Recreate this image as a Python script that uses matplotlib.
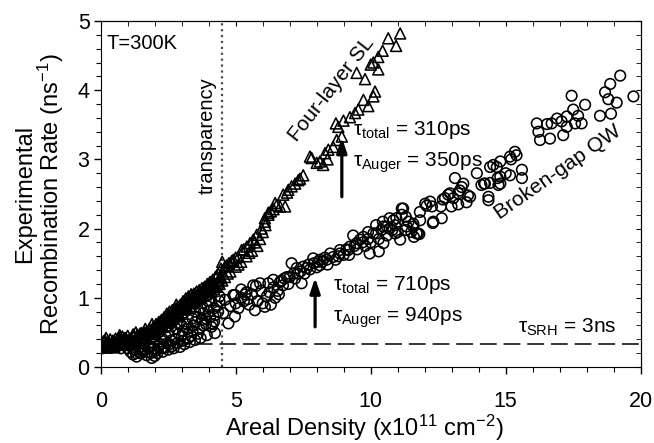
import numpy as np
import matplotlib
matplotlib.use("Agg")
import matplotlib.pyplot as plt

plt.rcParams['font.family'] = ['Liberation Sans', 'DejaVu Sans']
plt.rcParams['mathtext.fontset'] = 'custom'
plt.rcParams['mathtext.rm'] = 'Liberation Sans'
plt.rcParams['mathtext.it'] = 'Liberation Sans'

# Four-layer SL (triangles): areal density (x1e11 cm^-2), recombination rate (ns^-1)
sl_density = [0.05, 0.15, 0.3, 0.45, 0.55, 0.7, 0.8, 0.95, 1.1, 1.2, 1.35, 1.45, 1.6, 1.7, 1.8,
              1.95, 2.05, 2.15, 2.25, 2.35, 2.45, 2.55, 2.65, 2.75, 2.85, 2.95, 3.05, 3.15, 3.25,
              3.35, 3.45, 3.55, 3.65, 3.75, 3.85, 3.95, 4.05, 4.15, 4.25, 4.35, 4.45, 4.5,
              0.1, 0.25, 0.4, 0.6, 0.75, 0.9, 1.05, 1.25, 1.4, 1.55, 1.7, 1.85, 2.0, 2.1, 2.2,
              2.3, 2.4, 2.5, 2.6, 2.7, 2.8, 2.9, 3.0, 3.1, 3.2, 3.3, 3.4, 3.5, 3.6, 3.7, 3.8,
              3.9, 4.0, 4.1, 4.2, 4.3, 4.4, 4.5,
              1.0, 1.5, 2.0, 2.5, 3.0, 3.5, 4.0, 4.4, 2.2, 2.8, 3.3, 3.8, 1.3, 1.8, 0.5, 0.2,
              0.0, 0.2, 0.35, 0.5, 0.65, 0.85, 1.0, 1.15, 1.3, 1.5, 1.65, 1.9, 2.05, 2.25, 2.4,
              2.55, 2.7, 2.85, 3.0, 3.15, 3.3, 3.45, 3.6, 3.75, 3.9, 4.05, 4.2, 4.35,
              0.1, 0.4, 0.7, 1.0, 1.3, 1.6, 1.9, 2.2, 2.5, 2.8, 3.1, 3.4, 3.7, 4.0, 4.3,
              0.05, 0.25, 0.45, 0.6, 0.75, 0.9, 1.05, 1.2, 1.35, 1.5, 1.65, 1.8, 1.95, 2.1, 2.25,
              2.4, 2.55, 2.7, 2.85, 3.0, 3.15, 3.3, 3.45, 3.6, 3.75, 3.9, 4.05, 4.2, 4.35, 4.45,
              4.6, 4.67, 4.75, 4.85, 4.91, 5.0, 5.1, 5.22, 5.3, 5.41, 5.53, 5.65, 5.78, 5.96,
              6.08, 6.21, 6.52, 6.83, 6.08, 6.21, 6.46, 6.64, 6.76, 6.95, 7.07, 7.2, 7.32, 7.38,
              7.5, 7.81, 8.0, 8.12, 8.24, 8.31, 8.43, 8.61, 8.74, 8.93, 8.71, 8.8, 8.99, 9.23,
              9.42, 9.54, 9.91, 9.73, 10.1, 10.16, 9.79, 9.48, 10.28, 10.0, 10.1, 10.28, 10.44,
              10.94, 10.65, 11.09,
              4.6, 4.8, 5.0, 5.2, 5.4, 5.6, 5.8, 4.7, 5.1, 5.5, 5.9, 6.0, 6.3, 6.4, 6.9, 5.7, 6.1,
              7.75, 8.4]
sl_rate = [0.34, 0.39, 0.36, 0.33, 0.41, 0.46, 0.44, 0.40, 0.41, 0.44, 0.46, 0.48, 0.50, 0.51, 0.55,
           0.58, 0.62, 0.65, 0.68, 0.72, 0.77, 0.80, 0.82, 0.84, 0.87, 0.90, 0.95, 0.99, 1.02,
           1.05, 1.06, 1.09, 1.11, 1.14, 1.16, 1.20, 1.23, 1.26, 1.30, 1.35, 1.42, 1.52,
           0.30, 0.28, 0.31, 0.33, 0.36, 0.33, 0.35, 0.37, 0.38, 0.40, 0.42, 0.45, 0.48, 0.52, 0.55,
           0.58, 0.60, 0.64, 0.67, 0.70, 0.73, 0.76, 0.79, 0.83, 0.86, 0.88, 0.92, 0.95, 0.98, 1.00, 1.03,
           1.05, 1.08, 1.10, 1.13, 1.16, 1.20, 1.25,
           0.38, 0.44, 0.53, 0.70, 0.85, 1.00, 1.15, 1.28, 0.60, 0.80, 0.95, 1.08, 0.42, 0.48, 0.37, 0.33,
           0.28, 0.42, 0.40, 0.29, 0.40, 0.38, 0.45, 0.38, 0.50, 0.46, 0.55, 0.52, 0.57, 0.62, 0.68,
           0.72, 0.76, 0.80, 0.88, 0.92, 0.98, 1.00, 1.03, 1.08, 1.12, 1.17, 1.20, 1.25,
           0.37, 0.34, 0.42, 0.34, 0.40, 0.47, 0.62, 0.65, 0.74, 0.90, 0.90, 1.03, 1.06, 1.20, 1.32,
           0.31, 0.35, 0.38, 0.36, 0.41, 0.42, 0.39, 0.47, 0.43, 0.49, 0.47, 0.53, 0.50, 0.58, 0.60,
           0.66, 0.69, 0.74, 0.78, 0.84, 0.87, 0.93, 0.97, 1.04, 1.06, 1.10, 1.15, 1.18, 1.22, 1.30,
           1.45, 1.47, 1.50, 1.53, 1.55, 1.58, 1.59, 1.69, 1.70, 1.74, 1.79, 1.84, 1.91, 2.00,
           2.10, 2.20, 2.34, 2.32, 2.15, 2.23, 2.37, 2.32, 2.49, 2.56, 2.61, 2.65, 2.70, 2.72,
           2.77, 3.02, 2.95, 2.97, 2.92, 3.09, 3.14, 3.18, 3.28, 3.33, 3.52, 3.47, 3.56, 3.61,
           3.67, 3.72, 3.77, 3.86, 3.91, 3.98, 4.16, 4.25, 4.30, 4.37, 4.40, 4.48, 4.57,
           4.64, 4.75, 4.82,
           1.30, 1.38, 1.45, 1.52, 1.60, 1.68, 1.75, 1.35, 1.48, 1.65, 1.85, 1.95, 2.25, 2.28, 2.52, 1.80, 2.05,
           3.04, 3.00]

# Broken-gap QW (circles)
qw_density = [1.2, 1.33, 1.5, 1.7, 1.89, 2.0, 2.1, 2.3, 2.5, 2.7, 2.94, 3.1, 3.3, 3.49, 3.7, 3.93, 4.23,
              0.2, 0.5, 0.8, 1.0, 1.4, 1.8, 2.2, 2.6, 3.0, 3.4, 3.8, 4.2, 2.4, 2.8, 3.2, 3.6, 4.0,
              4.3, 4.4, 3.9, 4.1,
              0.1, 0.35, 0.6, 0.9, 1.1, 1.25, 1.45, 1.6, 1.75, 1.95, 2.15, 2.35, 2.55, 2.75, 2.9,
              3.05, 3.2, 3.35, 3.5, 3.65, 3.8, 3.95, 4.1, 4.25, 4.4, 2.0, 2.5, 3.0, 3.5, 4.0,
              0.05, 0.3, 0.55, 0.75, 1.05, 1.3, 1.55, 1.85, 2.05, 2.25, 2.45, 2.65, 2.85, 3.05,
              3.25, 3.45, 3.6, 3.75, 3.9, 4.05, 4.2, 4.35, 1.6, 2.3, 2.9, 3.4, 3.7, 4.15,
              4.54, 4.6, 4.73, 4.91, 4.97, 4.97, 5.2, 5.1, 5.3, 5.4, 5.5, 5.65, 5.71, 5.75, 5.9,
              6.08, 6.15, 6.21, 6.3, 6.39, 6.46, 6.64, 6.55, 6.9, 6.75, 7.07, 7.26, 7.44, 7.5,
              7.63, 7.75, 7.87, 8.12, 8.12, 8.37, 8.5, 8.61, 8.86, 8.86, 9.17, 9.23, 9.35, 9.48,
              9.6, 9.73, 9.96, 10.1, 10.2, 10.3, 10.4, 10.47, 10.6, 10.84, 10.9, 11.09, 11.15,
              11.3, 11.33, 11.58, 11.7, 11.75, 12.3, 10.2, 10.45, 10.7, 10.95, 11.2, 11.15, 10.47,
              10.8, 11.3, 11.6, 11.8, 11.58, 11.83, 12.32, 12.63, 12.02, 12.2, 12.27, 12.6, 12.99,
              13.24, 13.55, 13.68, 13.06, 12.75, 12.94, 13.3, 13.43, 13.12, 13.93, 14.2, 14.54,
              14.7, 14.8, 15.0, 14.36, 14.36, 12.07, 11.82, 12.67, 12.87, 13.37, 13.6, 13.24,
              14.1, 14.23, 14.42, 14.73, 14.8, 15.16, 15.6, 15.6, 14.42, 14.67, 14.8, 15.2, 15.16,
              15.4, 15.34, 16.27, 16.21, 16.64, 17.13, 16.15, 16.53, 16.7, 16.9, 17.07, 17.26,
              17.26, 17.57, 17.5, 17.68, 17.81, 17.94, 17.44, 18.49, 18.9, 18.8, 19.11, 18.68,
              18.87, 19.24, 19.73,
              7.9, 8.2, 8.4, 8.7, 9.0, 9.1, 9.4, 9.7, 9.9, 7.3, 7.0, 6.8, 8.0, 8.3, 8.8,
              4.8, 5.0, 5.2, 5.35, 5.45, 5.6, 5.8, 5.95, 6.0, 6.25, 6.4, 6.6, 6.7, 6.95, 7.15,
              7.2, 7.4, 7.55, 7.7, 8.05, 9.2, 9.5, 9.8, 10.0, 10.3, 10.6, 10.9, 11.0, 11.4, 11.5,
              9.9, 10.7]
qw_rate = [0.18, 0.15, 0.20, 0.17, 0.13, 0.16, 0.20, 0.22, 0.25, 0.27, 0.29, 0.33, 0.36, 0.39, 0.42, 0.46, 0.49,
           0.30, 0.33, 0.32, 0.27, 0.28, 0.30, 0.33, 0.38, 0.45, 0.52, 0.60, 0.66, 0.45, 0.55, 0.62, 0.72, 0.80,
           0.88, 0.95, 0.70, 0.58,
           0.35, 0.28, 0.30, 0.33, 0.22, 0.25, 0.20, 0.26, 0.22, 0.26, 0.30, 0.28, 0.33, 0.40, 0.48,
           0.38, 0.55, 0.45, 0.65, 0.55, 0.78, 0.88, 0.95, 0.75, 1.02, 0.40, 0.50, 0.60, 0.80, 0.95,
           0.27, 0.33, 0.28, 0.27, 0.31, 0.20, 0.24, 0.20, 0.24, 0.27, 0.34, 0.30, 0.35, 0.52,
           0.42, 0.60, 0.48, 0.68, 0.62, 0.72, 0.85, 0.80, 0.33, 0.40, 0.62, 0.70, 0.85, 0.62,
           0.78, 0.97, 0.63, 1.04, 0.73, 1.04, 1.00, 0.85, 0.95, 1.08, 0.90, 1.18, 0.82, 1.17, 1.21,
           0.87, 1.02, 1.21, 0.90, 1.26, 1.00, 1.23, 1.10, 1.30, 1.18, 1.50, 1.43, 1.21, 1.45,
           1.43, 1.41, 1.57, 1.47, 1.55, 1.55, 1.64, 1.59, 1.64, 1.69, 1.69, 1.74, 1.90, 1.79,
           1.84, 1.88, 1.64, 1.93, 1.93, 1.67, 1.98, 2.03, 2.03, 2.12, 1.93, 1.84, 2.29,
           2.17, 2.03, 2.03, 1.93, 1.93, 2.08, 2.05, 2.10, 2.15, 2.15, 2.29, 2.20, 1.79,
           1.98, 1.98, 1.88, 1.92, 2.07, 2.12, 2.10, 2.15, 2.36, 2.39, 2.32, 2.32, 2.32,
           2.35, 2.38, 2.46, 2.44, 2.44, 2.51, 2.55, 2.65, 2.73, 2.80, 2.65, 2.92,
           2.73, 2.65, 2.80, 2.41, 2.46, 2.33, 2.24, 2.42, 2.49, 2.60, 2.48, 2.51,
           2.63, 2.65, 2.66, 2.63, 2.75, 2.77, 2.73, 2.85, 2.89, 2.89, 2.97, 3.00, 3.04,
           3.06, 3.11, 3.28, 3.40, 3.30, 3.35, 3.52, 3.51, 3.52, 3.59, 3.55, 3.62,
           3.47, 3.52, 3.72, 3.63, 3.52, 3.79, 3.92, 3.63, 3.66, 3.87, 3.82, 3.97,
           4.09, 4.21, 3.91,
           1.50, 1.52, 1.48, 1.55, 1.62, 1.70, 1.75, 1.80, 1.85, 1.35, 1.30, 1.28, 1.44, 1.58, 1.60,
           0.88, 0.92, 1.12, 1.05, 0.98, 1.05, 0.95, 1.10, 0.92, 1.08, 1.15, 1.05, 1.25, 1.20, 1.35,
           1.28, 1.38, 1.35, 1.48, 1.52, 1.62, 1.70, 1.75, 1.80, 1.85, 1.90, 2.05, 1.95, 2.10, 1.95,
           1.95, 2.00]

transparency = 4.5      # transparency density
tau_srh = 3.0           # ns

fig = plt.figure(figsize=(6.54, 4.43), dpi=100)
ax = fig.add_axes([0.154, 0.1716, 0.8257, 0.781])

ax.scatter(qw_density, qw_rate, marker='o', s=58, facecolors='none', edgecolors='k', linewidths=1.15, zorder=3)
ax.scatter(sl_density, sl_rate, marker='^', s=62, facecolors='none', edgecolors='k', linewidths=1.15, zorder=3)

# reference lines
ax.axvline(transparency, color='0.3', ls=':', lw=1.6, zorder=2)
ax.axhline(1 / tau_srh, color='k', lw=1.1, dashes=(11, 4.5), zorder=2)

ax.set_xlim(0, 20)
ax.set_ylim(0, 5)
ax.set_xticks([0, 5, 10, 15, 20])
ax.set_yticks([0, 1, 2, 3, 4, 5])
ax.set_xticks(np.arange(0, 21, 1), minor=True)
ax.set_yticks(np.arange(0, 5.01, 0.2), minor=True)
ax.tick_params(axis='x', which='both', direction='out', labelsize=15.5, pad=12)
ax.tick_params(axis='y', which='both', direction='out', labelsize=15.5, pad=3)
ax.tick_params(which='major', length=5, width=1)
ax.tick_params(which='minor', length=3.5, width=0.8)

# mirrored ticks pointing inward on top and right
top = ax.secondary_xaxis('top')
top.set_xticks([0, 5, 10, 15, 20])
top.set_xticks(np.arange(0, 21, 1), minor=True)
top.tick_params(which='both', direction='in', length=3.5, labeltop=False)
right = ax.secondary_yaxis('right')
right.set_yticks([0, 1, 2, 3, 4, 5])
right.set_yticks(np.arange(0, 5.01, 0.2), minor=True)
right.tick_params(which='both', direction='in', length=3.5, labelright=False)

ax.set_xlabel(r'Areal Density (x10$^{11}$ cm$^{-2}$)', fontsize=17, va='center')
ax.xaxis.set_label_coords(0.489, -0.176)
ax.set_ylabel('Experimental\n' + r'Recombination Rate (ns$^{-1}$)', fontsize=17, va='center', linespacing=1.0)
ax.yaxis.set_label_coords(-0.112, 0.5)

ax.text(0.2, 4.68, 'T=300K', fontsize=14.5, va='center')
ax.text(3.94, 3.34, 'transparency', fontsize=14.5, rotation=90, ha='center', va='center')
ax.text(8.53, 4.02, 'Four-layer SL', fontsize=15, rotation=52, ha='center', va='center')
ax.text(16.94, 2.82, 'Broken-gap QW', fontsize=15, rotation=35, ha='center', va='center')

ax.text(9.34, 3.35, r'$\tau_{\rm total}$ = 310ps', fontsize=15)
ax.text(9.34, 2.89, r'$\tau_{\rm Auger}$ = 350ps', fontsize=15)
ax.text(8.6, 1.11, r'$\tau_{\rm total}$ = 710ps', fontsize=15)
ax.text(8.6, 0.65, r'$\tau_{\rm Auger}$ = 940ps', fontsize=15)
ax.text(15.46, 0.49, r'$\tau_{\rm SRH}$ = 3ns', fontsize=15)

arrow = dict(arrowstyle='-|>,head_width=0.3,head_length=0.9', lw=2.3, color='k', shrinkA=0, shrinkB=0)
ax.annotate('', xy=(8.93, 3.32), xytext=(8.93, 2.46), arrowprops=arrow, zorder=4)
ax.annotate('', xy=(7.94, 1.29), xytext=(7.94, 0.58), arrowprops=arrow, zorder=4)

plt.savefig('out.png', dpi=100)
